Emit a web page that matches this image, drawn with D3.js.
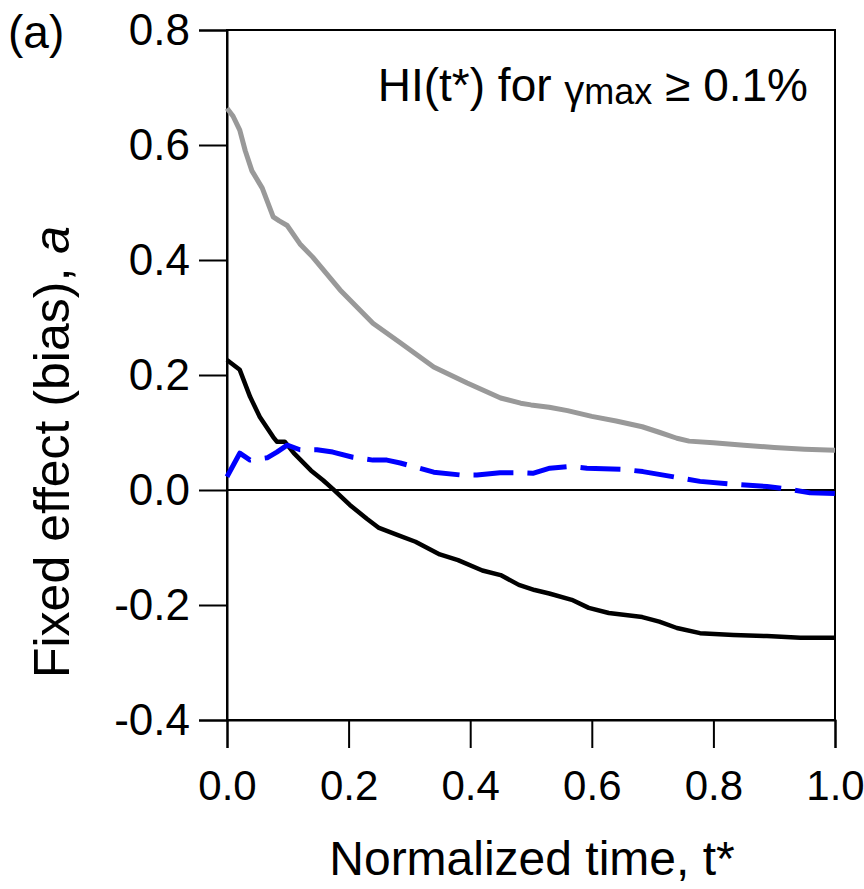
<!DOCTYPE html>
<html>
<head>
<meta charset="utf-8">
<script src="https://cdn.jsdelivr.net/npm/d3@7/dist/d3.min.js"></script>
<style>
  html, body { margin: 0; padding: 0; background: #fff; }
  svg { display: block; font-family: "Liberation Sans", Arial, sans-serif; }
</style>
</head>
<body>
<svg id="chart" width="864" height="889"></svg>
<script>
// ---- data ----
const grayT = [0.000,0.010,0.021,0.030,0.041,0.058,0.076,0.086,0.099,0.120,0.141,0.186,0.240,0.285,0.340,0.395,0.450,0.483,0.500,0.530,0.560,0.600,0.640,0.683,0.712,0.740,0.760,0.800,0.850,0.900,0.950,1.000];
const grayV = [0.664,0.650,0.626,0.590,0.555,0.525,0.475,0.468,0.460,0.428,0.405,0.348,0.290,0.256,0.214,0.186,0.160,0.151,0.148,0.144,0.138,0.128,0.120,0.110,0.100,0.090,0.085,0.082,0.078,0.074,0.071,0.069];

const blackT = [0.000,0.021,0.038,0.054,0.076,0.082,0.095,0.110,0.138,0.158,0.174,0.202,0.230,0.250,0.280,0.310,0.350,0.380,0.420,0.450,0.480,0.506,0.530,0.567,0.595,0.628,0.683,0.711,0.740,0.778,0.833,0.888,0.943,1.000];
const blackV = [0.226,0.209,0.162,0.127,0.092,0.084,0.084,0.064,0.034,0.017,0.002,-0.026,-0.050,-0.066,-0.078,-0.090,-0.112,-0.122,-0.140,-0.148,-0.165,-0.174,-0.180,-0.191,-0.205,-0.214,-0.221,-0.229,-0.240,-0.249,-0.252,-0.254,-0.257,-0.257];

const blueT = [0.000,0.021,0.038,0.066,0.082,0.099,0.120,0.148,0.174,0.207,0.240,0.263,0.285,0.340,0.385,0.411,0.449,0.482,0.503,0.531,0.564,0.592,0.651,0.684,0.745,0.778,0.832,0.888,0.926,0.959,1.000];
const blueV = [0.023,0.064,0.052,0.056,0.066,0.078,0.070,0.070,0.066,0.057,0.052,0.052,0.047,0.031,0.026,0.026,0.030,0.030,0.029,0.038,0.041,0.038,0.036,0.032,0.021,0.015,0.010,0.006,0.001,-0.005,-0.006];

const xTicks = [0.0, 0.2, 0.4, 0.6, 0.8, 1.0];
const xTickLabels = ["0.0", "0.2", "0.4", "0.6", "0.8", "1.0"];
const yTicks = [-0.4, -0.2, 0.0, 0.2, 0.4, 0.6, 0.8];
const yTickLabels = ["-0.4", "-0.2", "0.0", "0.2", "0.4", "0.6", "0.8"];

// ---- layout ----
const svg = d3.select("#chart");
const L = 227, R = 835, T = 30, B = 720;
const x = d3.scaleLinear().domain([0, 1]).range([L, R]);
const y = d3.scaleLinear().domain([-0.4, 0.8]).range([B, T]);

// frame
svg.append("rect").attr("x", L).attr("y", T).attr("width", R - L).attr("height", B - T)
  .attr("fill", "none").attr("stroke", "#000").attr("stroke-width", 2);

// axes
const yAxis = d3.axisLeft(y).tickValues(yTicks).tickSize(28).tickPadding(9)
  .tickFormat((d, i) => yTickLabels[i]);
const gy = svg.append("g").attr("transform", `translate(${L},0)`).call(yAxis);
gy.select(".domain").attr("stroke-width", 2);
gy.selectAll(".tick line").attr("stroke-width", 2);
gy.selectAll(".tick text").attr("font-size", 44).attr("font-family", "Liberation Sans, Arial, sans-serif").attr("fill", "#000");

const xAxis = d3.axisBottom(x).tickValues(xTicks).tickSize(28).tickPadding(22)
  .tickFormat((d, i) => xTickLabels[i]);
const gx = svg.append("g").attr("transform", `translate(0,${B})`).call(xAxis);
gx.select(".domain").attr("stroke-width", 2);
gx.selectAll(".tick line").attr("stroke-width", 2);
gx.selectAll(".tick text").attr("font-size", 42).attr("font-family", "Liberation Sans, Arial, sans-serif").attr("fill", "#000");

// zero line
svg.append("line").attr("x1", x(0)).attr("x2", x(1)).attr("y1", y(0)).attr("y2", y(0))
  .attr("stroke", "#000").attr("stroke-width", 2);

// series
const line = d3.line().x(d => x(d[0])).y(d => y(d[1]));
const mk = (T_, V_) => T_.map((t, i) => [t, V_[i]]);

svg.append("path").datum(mk(grayT, grayV)).attr("d", line)
  .attr("fill", "none").attr("stroke", "#999999").attr("stroke-width", 5).attr("stroke-linejoin", "round");
svg.append("path").datum(mk(blackT, blackV)).attr("d", line)
  .attr("fill", "none").attr("stroke", "#000").attr("stroke-width", 4.5).attr("stroke-linejoin", "round");
svg.append("path").datum(mk(blueT, blueV)).attr("d", line)
  .attr("fill", "none").attr("stroke", "#0000ff").attr("stroke-width", 5).attr("stroke-dasharray", "40,14")
  .attr("stroke-linejoin", "round");

// panel label
svg.append("text").attr("x", 8).attr("y", 48).attr("font-size", 46).text("(a)");

// annotation
const ann = svg.append("text").attr("x", 808).attr("y", 101).attr("text-anchor", "end").attr("font-size", 46);
ann.append("tspan").text("HI(t*) for ");
ann.append("tspan").attr("font-size", 40).attr("dy", 3).text("γ");
ann.append("tspan").attr("font-size", 36).text("max");
ann.append("tspan").attr("dy", -3).text(" ≥ 0.1%");

// axis titles
svg.append("text").attr("x", 532).attr("y", 875).attr("text-anchor", "middle").attr("font-size", 48)
  .text("Normalized time, t*");
const yt = svg.append("text").attr("transform", `translate(69,452) rotate(-90)`)
  .attr("text-anchor", "middle").attr("font-size", 50);
yt.append("tspan").text("Fixed effect (bias), ");
yt.append("tspan").attr("font-style", "italic").text("a");
</script>
</body>
</html>
